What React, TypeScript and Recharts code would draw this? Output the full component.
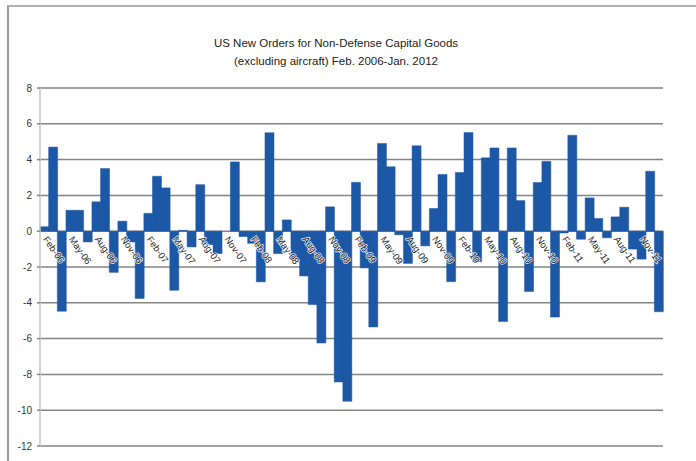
import React from 'react';
import { BarChart, Bar, XAxis, YAxis, CartesianGrid } from 'recharts';

const months = [
  'Feb-06', 'Mar-06', 'Apr-06', 'May-06', 'Jun-06', 'Jul-06', 'Aug-06', 'Sep-06', 'Oct-06', 'Nov-06', 'Dec-06', 'Jan-07',
  'Feb-07', 'Mar-07', 'Apr-07', 'May-07', 'Jun-07', 'Jul-07', 'Aug-07', 'Sep-07', 'Oct-07', 'Nov-07', 'Dec-07', 'Jan-08',
  'Feb-08', 'Mar-08', 'Apr-08', 'May-08', 'Jun-08', 'Jul-08', 'Aug-08', 'Sep-08', 'Oct-08', 'Nov-08', 'Dec-08', 'Jan-09',
  'Feb-09', 'Mar-09', 'Apr-09', 'May-09', 'Jun-09', 'Jul-09', 'Aug-09', 'Sep-09', 'Oct-09', 'Nov-09', 'Dec-09', 'Jan-10',
  'Feb-10', 'Mar-10', 'Apr-10', 'May-10', 'Jun-10', 'Jul-10', 'Aug-10', 'Sep-10', 'Oct-10', 'Nov-10', 'Dec-10', 'Jan-11',
  'Feb-11', 'Mar-11', 'Apr-11', 'May-11', 'Jun-11', 'Jul-11', 'Aug-11', 'Sep-11', 'Oct-11', 'Nov-11', 'Dec-11', 'Jan-12',
];

const changes = [
  0.25, 4.7, -4.47, 1.17, 1.17, -0.6, 1.64, 3.5, -2.3, 0.56, -0.6, -3.76,
  1.0, 3.07, 2.42, -3.3, 0.05, -0.88, 2.6, -0.75, -1.25, 0.0, 3.87, -0.3,
  -0.68, -2.83, 5.5, -1.25, 0.63, -1.6, -2.5, -4.1, -6.25, 1.36, -8.42, -9.5,
  2.73, -2.05, -5.35, 4.9, 3.6, -0.2, -1.8, 4.77, -0.82, 1.27, 3.17, -2.82,
  3.28, 5.51, -1.7, 4.1, 4.65, -5.05, 4.65, 1.71, -3.37, 2.72, 3.9, -4.8,
  -0.1, 5.36, -0.45, 1.86, 0.71, -0.37, 0.8, 1.34, -1.0, -1.56, 3.35, -4.5,
];

const yTicks = [-12, -10, -8, -6, -4, -2, 0, 2, 4, 6, 8];

const titleLines = [
  'US New Orders for Non-Defense Capital Goods',
  '(excluding aircraft) Feb. 2006-Jan. 2012',
];

const data = months.map((m, i) => ({ month: m, value: changes[i] }));

const W = 696;
const H = 461;
const MARGIN = { top: 88, right: 33, bottom: 14, left: 0 };
const X_AXIS_H = 1;
const Y_MIN = yTicks[0];
const Y_MAX = yTicks[yTicks.length - 1];
const PLOT_H = H - MARGIN.top - MARGIN.bottom - X_AXIS_H;
const ZERO_Y = MARGIN.top + (PLOT_H * (Y_MAX - 0)) / (Y_MAX - Y_MIN);
const FONT = '"Liberation Sans", Arial, sans-serif';

function MonthTick(props: any) {
  const { x, payload } = props;
  return (
    <g transform={`translate(${x + 1},${ZERO_Y + 6})`}>
      <text
        transform="rotate(55)"
        textAnchor="start"
        dominantBaseline="central"
        fontSize={9.5}
        fontFamily={FONT}
        fill="#1e1e1e"
        stroke="#ffffff"
        strokeWidth={1.6}
        strokeOpacity={0.85}
        paintOrder="stroke"
      >
        {payload.value}
      </text>
    </g>
  );
}

export default function App() {
  return (
    <div style={{ position: 'absolute', left: 0, top: 0, width: W, height: H, background: '#fff', overflow: 'hidden' }}>
      <div
        style={{
          position: 'absolute',
          left: 7,
          top: 5,
          width: 720,
          height: 480,
          borderLeft: '2px solid #9a9a9a',
          borderTop: '2px solid #b0b0b0',
        }}
      />
      <div
        style={{
          position: 'absolute',
          left: 0,
          top: 34,
          width: 672,
          textAlign: 'center',
          fontFamily: FONT,
          fontSize: 11.5,
          lineHeight: '18px',
          color: '#222',
        }}
      >
        {titleLines.map((t) => (
          <div key={t}>{t}</div>
        ))}
      </div>
      <div style={{ position: 'absolute', left: 0, top: 0 }}>
        <BarChart width={W} height={H} data={data} margin={MARGIN} barCategoryGap={0} barGap={0}>
          <CartesianGrid vertical={false} stroke="#858585" strokeWidth={1.5} />
          <YAxis
            type="number"
            domain={[Y_MIN, Y_MAX]}
            ticks={yTicks}
            interval={0}
            width={40}
            tickSize={3}
            tickMargin={5}
            axisLine={{ stroke: '#c4c4c4', strokeWidth: 1.5 }}
            tickLine={{ stroke: '#858585', strokeWidth: 1.5 }}
            tick={{ fontSize: 10, fill: '#333', fontFamily: FONT }}
          />
          <Bar dataKey="value" fill="#1c58a6" stroke="#1c58a6" strokeWidth={0.5} isAnimationActive={false} />
          <XAxis
            dataKey="month"
            interval={2}
            height={X_AXIS_H}
            axisLine={false}
            tickLine={false}
            tick={<MonthTick />}
          />
        </BarChart>
      </div>
    </div>
  );
}
